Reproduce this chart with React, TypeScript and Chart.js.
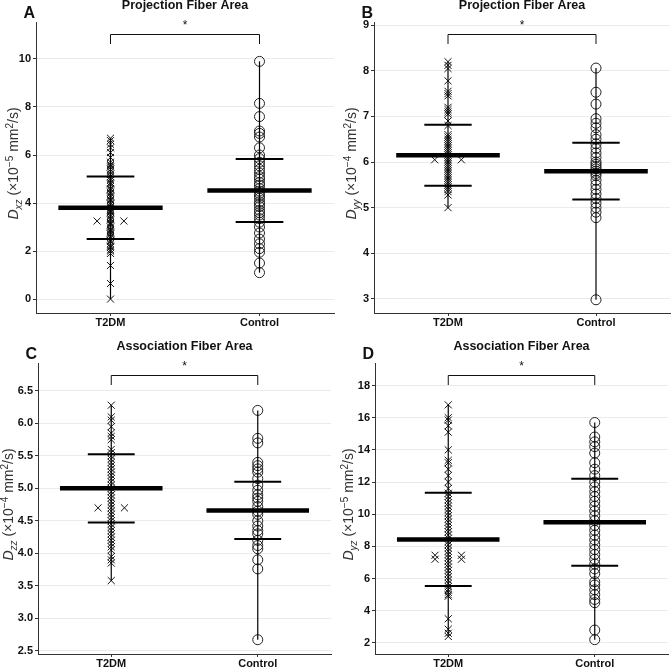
import React, { useEffect, useRef } from "react";
import { Chart, registerables } from "chart.js";
Chart.register(...registerables);

const FONT = "'Liberation Sans', Arial, sans-serif";
const groups = ["T2DM", "Control"];

// ---- Panel A: Projection Fiber Area, Dxz ----
const aT2dm = [0.0, 0.65, 1.4, 1.9, 2.0, 2.05, 2.15, 2.2, 2.3, 2.4, 2.45, 2.55, 2.6, 2.7, 2.75, 2.8, 2.85, 2.9, 3.0, 3.1, 3.15, 3.2, 3.3, 3.35, 3.45, 3.5, 3.6, 3.65, 3.7, 3.75, 3.8, 3.85, 3.95, 4.0, 4.1, 4.15, 4.25, 4.3, 4.4, 4.45, 4.55, 4.6, 4.7, 4.8, 4.85, 4.95, 5.0, 5.1, 5.2, 5.3, 5.4, 5.5, 5.55, 5.6, 5.7, 5.9, 6.1, 6.3, 6.45, 6.6, 6.7];
const aT2dmDodged = [3.25];
const aControl = [1.1, 1.5, 1.95, 2.1, 2.3, 2.5, 2.75, 3.0, 3.2, 3.35, 3.5, 3.6, 3.7, 3.85, 3.95, 4.05, 4.2, 4.3, 4.4, 4.5, 4.6, 4.75, 4.85, 5.0, 5.1, 5.25, 5.4, 5.55, 5.7, 5.85, 6.0, 6.3, 6.75, 6.9, 7.0, 7.6, 8.15, 9.9];
const aMean = [3.8, 4.52];
const aSd = [1.3, 1.31];
const aTicks = [0, 2, 4, 6, 8, 10];

// ---- Panel B: Projection Fiber Area, Dyy ----
const bT2dm = [5.0, 5.28, 5.35, 5.4, 5.45, 5.5, 5.55, 5.6, 5.65, 5.7, 5.75, 5.8, 5.85, 5.9, 5.95, 6.0, 6.05, 6.1, 6.15, 6.2, 6.25, 6.3, 6.35, 6.4, 6.45, 6.5, 6.55, 6.6, 6.8, 6.9, 7.05, 7.1, 7.15, 7.2, 7.45, 7.5, 7.55, 7.78, 8.05, 8.12, 8.2];
const bT2dmDodged = [6.05];
const bControl = [2.98, 4.78, 4.9, 5.0, 5.1, 5.2, 5.3, 5.4, 5.5, 5.6, 5.7, 5.75, 5.8, 5.85, 5.9, 5.95, 6.0, 6.1, 6.2, 6.3, 6.4, 6.5, 6.6, 6.75, 6.85, 6.95, 7.27, 7.53, 8.06];
const bMean = [6.15, 5.8];
const bSd = [0.67, 0.62];
const bTicks = [3, 4, 5, 6, 7, 8, 9];

// ---- Panel C: Association Fiber Area, Dzz ----
const cT2dm = [3.58, 3.85, 3.9, 3.95, 4.05, 4.1, 4.15, 4.2, 4.25, 4.3, 4.35, 4.4, 4.45, 4.5, 4.55, 4.6, 4.65, 4.7, 4.75, 4.8, 4.85, 4.9, 4.95, 5.0, 5.05, 5.1, 5.15, 5.2, 5.25, 5.3, 5.35, 5.4, 5.45, 5.5, 5.55, 5.6, 5.75, 5.8, 5.85, 5.95, 6.05, 6.1, 6.28];
const cT2dmDodged = [4.7];
const cControl = [2.67, 3.76, 3.9, 4.07, 4.12, 4.2, 4.3, 4.35, 4.42, 4.5, 4.6, 4.65, 4.72, 4.8, 4.85, 4.9, 4.97, 5.05, 5.15, 5.25, 5.3, 5.35, 5.4, 5.7, 5.77, 6.2];
const cMean = [5.0, 4.66];
const cSd = [0.525, 0.44];
const cTicks = [2.5, 3.0, 3.5, 4.0, 4.5, 5.0, 5.5, 6.0, 6.5];

// ---- Panel D: Association Fiber Area, Dyz ----
const dT2dm = [2.4, 2.6, 2.85, 3.5, 4.9, 5.0, 5.15, 5.3, 5.5, 5.7, 5.9, 6.1, 6.3, 6.5, 6.7, 6.9, 7.1, 7.3, 7.5, 7.7, 7.9, 8.1, 8.3, 8.5, 8.7, 8.9, 9.1, 9.3, 9.5, 9.7, 9.9, 10.1, 10.3, 10.5, 10.7, 10.9, 11.1, 11.3, 11.6, 12.0, 12.4, 12.8, 13.2, 13.35, 14.0, 15.1, 15.5, 15.85, 16.0, 16.8];
const dT2dmDodged = [7.2, 7.45];
const dControl = [2.2, 2.8, 4.5, 4.7, 5.0, 5.3, 5.6, 5.8, 6.3, 6.6, 6.9, 7.2, 7.5, 7.8, 8.1, 8.4, 8.7, 9.0, 9.3, 9.6, 9.9, 10.2, 10.5, 10.8, 11.1, 11.4, 11.7, 12.0, 12.4, 12.8, 13.2, 13.8, 14.2, 14.5, 14.8, 15.7];
const dMean = [8.43, 9.5];
const dSd = [2.9, 2.7];
const dTicks = [2, 4, 6, 8, 10, 12, 14, 16, 18];

const panels = [
  { letter: "A", title: "Projection Fiber Area", sub: "xz", exp: "\u22125", t2dm: aT2dm, dodged: aT2dmDodged, control: aControl, mean: aMean, sd: aSd, ticks: aTicks, min: -0.58, max: 11.54, dec: 0, yw: 36, tx: 18, rp: 2, left: 0, top: 0 },
  { letter: "B", title: "Projection Fiber Area", sub: "yy", exp: "\u22124", t2dm: bT2dm, dodged: bT2dmDodged, control: bControl, mean: bMean, sd: bSd, ticks: bTicks, min: 2.69, max: 9.07, dec: 0, yw: 38, tx: 20, rp: 2, left: 336, top: 0 },
  { letter: "C", title: "Association Fiber Area", sub: "zz", exp: "\u22124", t2dm: cT2dm, dodged: cT2dmDodged, control: cControl, mean: cMean, sd: cSd, ticks: cTicks, min: 2.45, max: 6.93, dec: 1, yw: 38, tx: 13, rp: 5, left: 0, top: 341 },
  { letter: "D", title: "Association Fiber Area", sub: "yz", exp: "\u22125", t2dm: dT2dm, dodged: dT2dmDodged, control: dControl, mean: dMean, sd: dSd, ticks: dTicks, min: 1.31, max: 19.4, dec: 0, yw: 39, tx: 17, rp: 4, left: 336, top: 341 },
];

const MEAN_HALF = 0.35;
const SD_HALF = 0.16;
const DODGE = 0.09;

const decor = {
  id: "decor",
  afterDraw(chart: any) {
    const p = chart.options.plugins.decor;
    const { ctx, chartArea } = chart;
    const xs = chart.scales.x;
    const x1 = xs.getPixelForValue(1);
    const x2 = xs.getPixelForValue(2);
    const top = chartArea.top;
    ctx.save();
    ctx.fillStyle = "#111";
    ctx.textAlign = "center";
    ctx.textBaseline = "middle";
    // title
    ctx.font = `bold 12.5px ${FONT}`;
    ctx.fillText(p.title, (chartArea.left + chartArea.right) / 2, top - 16);
    // letter
    ctx.font = `bold 16px ${FONT}`;
    ctx.textAlign = "right";
    ctx.fillText(p.letter, chartArea.left - 1, top - 8);
    // bracket
    ctx.strokeStyle = "#111";
    ctx.lineWidth = 1;
    ctx.beginPath();
    ctx.moveTo(x1, top + 22);
    ctx.lineTo(x1, top + 12.5);
    ctx.lineTo(x2, top + 12.5);
    ctx.lineTo(x2, top + 22);
    ctx.stroke();
    ctx.textAlign = "center";
    ctx.font = `12px ${FONT}`;
    ctx.fillText("*", (x1 + x2) / 2, top + 4);
    // y title
    const pieces = [
      { t: "D", f: `italic 14px ${FONT}`, dy: 0 },
      { t: p.sub, f: `italic 10px ${FONT}`, dy: 3.5 },
      { t: " (\u00d710", f: `14px ${FONT}`, dy: 0 },
      { t: p.exp, f: `10px ${FONT}`, dy: -5.5 },
      { t: " mm", f: `14px ${FONT}`, dy: 0 },
      { t: "2", f: `10px ${FONT}`, dy: -5.5 },
      { t: "/s)", f: `14px ${FONT}`, dy: 0 },
    ];
    let total = 0;
    for (const pc of pieces) {
      ctx.font = pc.f;
      total += ctx.measureText(pc.t).width;
    }
    ctx.translate(p.tx, (chartArea.top + chartArea.bottom) / 2 - 4);
    ctx.rotate(-Math.PI / 2);
    ctx.fillStyle = "#333";
    ctx.textAlign = "left";
    ctx.textBaseline = "alphabetic";
    let cx = -total / 2;
    for (const pc of pieces) {
      ctx.font = pc.f;
      ctx.fillText(pc.t, cx, pc.dy);
      cx += ctx.measureText(pc.t).width;
    }
    ctx.restore();
  },
};

function seg(x0: number, x1: number, y0: number, y1: number, w: number, order: number) {
  return {
    type: "scatter",
    data: [{ x: x0, y: y0 }, { x: x1, y: y1 }],
    showLine: true,
    borderColor: "#000",
    borderWidth: w,
    borderCapStyle: "butt",
    pointRadius: 0,
    order,
  };
}

function Panel({ cfg }: { cfg: any }) {
  const ref = useRef<HTMLCanvasElement>(null);
  useEffect(() => {
    const vals = [cfg.t2dm, cfg.control];
    const datasets: any[] = [];
    [0, 1].forEach((i) => {
      const cx = i + 1;
      datasets.push(seg(cx, cx, Math.min(...vals[i]), Math.max(...vals[i]), 1.2, 2));
      datasets.push(seg(cx - MEAN_HALF, cx + MEAN_HALF, cfg.mean[i], cfg.mean[i], 4.5, 0));
      datasets.push(seg(cx - SD_HALF, cx + SD_HALF, cfg.mean[i] + cfg.sd[i], cfg.mean[i] + cfg.sd[i], 2, 0));
      datasets.push(seg(cx - SD_HALF, cx + SD_HALF, cfg.mean[i] - cfg.sd[i], cfg.mean[i] - cfg.sd[i], 2, 0));
    });
    const crossStyle = { pointStyle: "crossRot", pointRadius: 5, borderColor: "#111", borderWidth: 1, backgroundColor: "rgba(0,0,0,0)", order: 3 };
    datasets.push({ type: "scatter", data: cfg.t2dm.map((v: number) => ({ x: 1, y: v })), ...crossStyle });
    datasets.push({ type: "scatter", data: cfg.dodged.flatMap((v: number) => [{ x: 1 - DODGE, y: v }, { x: 1 + DODGE, y: v }]), ...crossStyle });
    datasets.push({ type: "scatter", data: cfg.control.map((v: number) => ({ x: 2, y: v })), pointStyle: "circle", pointRadius: 5, borderColor: "#222", borderWidth: 1, backgroundColor: "rgba(0,0,0,0)", order: 3 });

    const chart = new Chart(ref.current as HTMLCanvasElement, {
      type: "scatter",
      data: { datasets },
      plugins: [decor],
      options: {
        responsive: false,
        animation: false,
        devicePixelRatio: 1,
        events: [],
        layout: { padding: { top: 22, right: cfg.rp, bottom: 0, left: 0 }, autoPadding: false },
        plugins: {
          legend: { display: false },
          tooltip: { enabled: false },
          decor: { title: cfg.title, letter: cfg.letter, sub: cfg.sub, exp: cfg.exp, tx: cfg.tx },
        } as any,
        scales: {
          x: {
            type: "linear",
            min: 0.5,
            max: 2.5,
            afterBuildTicks: (s: any) => { s.ticks = [{ value: 1 }, { value: 2 }]; },
            afterFit: (s: any) => { s.height = 14; },
            ticks: {
              callback: (_v: any, i: number) => groups[i],
              font: { family: FONT, size: 11, weight: "bold" },
              color: "#111",
              padding: 0,
              autoSkip: false,
              maxRotation: 0,
            },
            grid: { drawOnChartArea: false, tickLength: 3, tickColor: "#333" },
            border: { color: "#333", width: 1 },
          },
          y: {
            type: "linear",
            min: cfg.min,
            max: cfg.max,
            afterBuildTicks: (s: any) => { s.ticks = cfg.ticks.map((v: number) => ({ value: v })); },
            afterFit: (s: any) => { s.width = cfg.yw; },
            ticks: {
              callback: (v: any) => Number(v).toFixed(cfg.dec),
              font: { family: FONT, size: 11, weight: "bold" },
              color: "#111",
              padding: 2,
            },
            grid: { color: "#ebebeb", lineWidth: 1, tickLength: 3, tickColor: "#333" },
            border: { color: "#333", width: 1 },
          },
        },
      } as any,
    } as any);
    return () => chart.destroy();
  }, []);
  return (
    <canvas
      ref={ref}
      width={336}
      height={327}
      style={{ position: "absolute", left: cfg.left, top: cfg.top, width: 336, height: 327 }}
    />
  );
}

export default function App() {
  return (
    <div style={{ position: "fixed", left: 0, top: 0, width: 672, height: 667, background: "#fff" }}>
      {panels.map((p) => (
        <Panel key={p.letter} cfg={p} />
      ))}
    </div>
  );
}
